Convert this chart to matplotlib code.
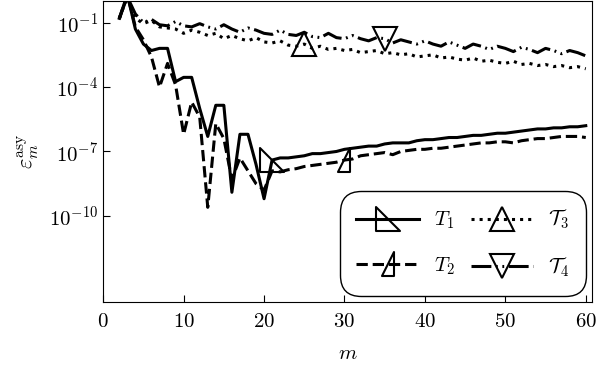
import numpy as np
import matplotlib
matplotlib.use("Agg")
import matplotlib.pyplot as plt
from matplotlib.path import Path

plt.rcParams['font.family'] = 'cmr10'
plt.rcParams['mathtext.fontset'] = 'cm'
plt.rcParams['axes.formatter.use_mathtext'] = True
plt.rcParams['axes.unicode_minus'] = False

# m = 2 .. 60, values are log10 of the error
m = list(range(2, 61))

log_T1 = [-0.8, 0.3, -1.3, -2.0, -2.3, -2.2, -2.2, -3.75, -3.55, -3.55,
          -5.0, -6.3, -4.85, -4.85, -8.9, -6.2, -6.2, -7.6, -9.2,
          -7.4, -7.3, -7.3, -7.25, -7.2, -7.1, -7.1, -7.05, -7.0, -6.9,
          -6.85, -6.8, -6.75, -6.75, -6.65, -6.6, -6.6, -6.6, -6.5, -6.45,
          -6.45, -6.4, -6.35, -6.35, -6.3, -6.25, -6.25, -6.2, -6.15, -6.15,
          -6.1, -6.05, -6.0, -5.95, -5.95, -5.9, -5.9, -5.85, -5.85, -5.8]

log_T2 = [-0.85, 0.3, -1.2, -1.8, -2.6, -4.0, -2.9, -3.9, -6.2, -4.7,
          -5.4, -9.6, -5.7, -6.4, -8.3, -7.3, -7.9, -8.5, -8.8,
          -7.9, -7.95, -7.85, -7.8, -7.7, -7.65, -7.6, -7.55, -7.5, -7.4,
          -7.35, -7.2, -7.15, -7.1, -7.05, -7.15, -7.0, -6.95, -6.9, -6.9,
          -6.85, -6.85, -6.8, -6.75, -6.7, -6.65, -6.6, -6.6, -6.55, -6.55,
          -6.6, -6.5, -6.45, -6.4, -6.4, -6.35, -6.3, -6.3, -6.3, -6.35]

log_T3 = [-0.8, 0.2, -0.8, -1.05, -0.9, -1.2, -1.25, -1.3, -1.5, -1.35,
          -1.45, -1.6, -1.5, -1.75, -1.6, -1.75, -1.85, -1.7, -1.9,
          -1.95, -1.85, -2.05, -2.1, -2.0, -2.2, -2.1, -2.25, -2.2, -2.3,
          -2.25, -2.4, -2.35, -2.3, -2.45, -2.4, -2.5, -2.45, -2.6, -2.55,
          -2.5, -2.65, -2.6, -2.7, -2.75, -2.65, -2.8, -2.75, -2.85, -2.9,
          -2.8, -2.95, -2.9, -3.0, -2.95, -3.05, -3.0, -3.1, -3.05, -3.15]

log_T4 = [-0.8, 0.2, -0.6, -1.0, -0.85, -1.1, -1.15, -0.95, -1.15, -1.2,
          -1.05, -1.2, -1.3, -1.1, -1.3, -1.45, -1.25, -1.35, -1.5,
          -1.55, -1.35, -1.55, -1.6, -1.45, -1.65, -1.7, -1.5, -1.7, -1.75,
          -1.6, -1.75, -1.85, -1.7, -1.75, -1.95, -1.8, -1.9, -2.0, -1.85,
          -2.0, -2.1, -1.9, -2.05, -2.2, -2.0, -2.1, -2.25, -2.1, -2.2,
          -2.35, -2.15, -2.25, -2.4, -2.2, -2.3, -2.45, -2.3, -2.4, -2.55]

labels = [r'$T_1$', r'$T_2$', r'$\mathcal{T}_3$', r'$\mathcal{T}_4$']
mark_at = [21, 30, 25, 35]

# odd right-triangle markers
tri1 = Path([(-1, 1), (-1, -1), (1, -1), (-1, 1)],
            [Path.MOVETO, Path.LINETO, Path.LINETO, Path.CLOSEPOLY])
tri2 = Path([(0.5, 1), (0.5, -1), (-0.5, -1), (0.5, 1)],
            [Path.MOVETO, Path.LINETO, Path.LINETO, Path.CLOSEPOLY])
markers = [tri1, tri2, '^', 'v']
styles = ['-', '--', ':', (0, (6.5, 1.5, 0.6, 1.5, 0.6, 1.5))]

fig = plt.figure(figsize=(6, 3.69), dpi=100)
ax = fig.add_axes([0.172, 0.182, 0.815, 0.815])

for ys, lab, mk, ls, at in zip([log_T1, log_T2, log_T3, log_T4], labels,
                               markers, styles, mark_at):
    ax.plot(m, 10.0 ** np.array(ys), color='black', lw=2.2, linestyle=ls,
            marker=mk, markevery=[m.index(at)], markersize=17,
            markerfacecolor='none', markeredgewidth=1.5, label=lab)

ax.set_yscale('log')
ax.set_xlim(0, 60.8)
ax.set_ylim(1e-14, 1)
ax.set_yticks([1e-1, 1e-4, 1e-7, 1e-10])
ax.minorticks_off()
ax.set_xticks([0, 10, 20, 30, 40, 50, 60])
ax.tick_params(direction='in', labelsize=15, length=5)
ax.tick_params(axis='x', pad=8)

ax.set_xlabel(r'$m$', fontsize=15, labelpad=10)
ax.set_ylabel(r'$\varepsilon_m^{\mathrm{asy}}$', fontsize=16, labelpad=6)

leg = ax.legend(loc='lower right', ncol=2, fontsize=15, handlelength=3.0,
                numpoints=1, fancybox=True, framealpha=1, edgecolor='black',
                borderaxespad=0.3, columnspacing=0.8, borderpad=0.8,
                labelspacing=1.15, handletextpad=0.7)
leg.get_frame().set_linewidth(1.0)
leg.get_frame().set_boxstyle('round,pad=0,rounding_size=1.0')

fig.savefig('out.png', dpi=100)
